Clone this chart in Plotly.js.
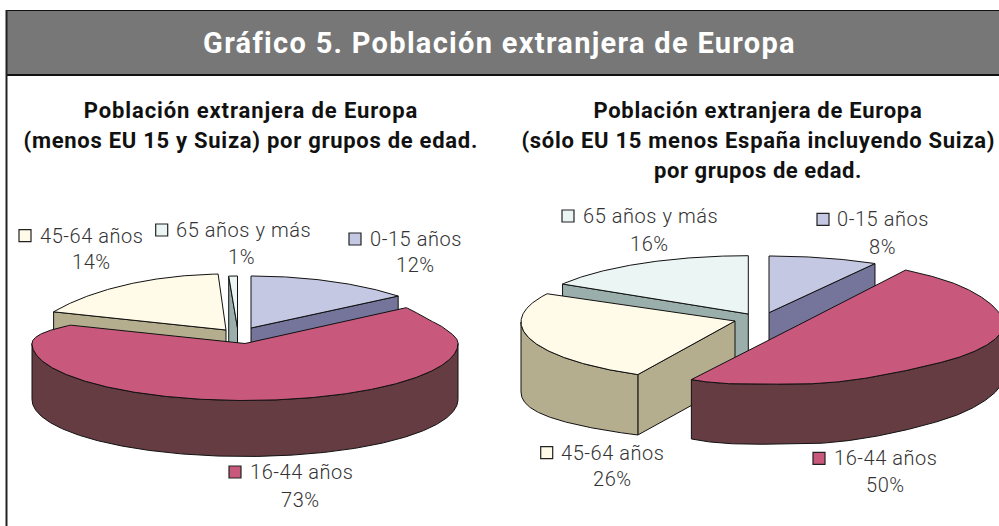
<!DOCTYPE html>
<html><head><meta charset="utf-8">
<script src="https://cdn.plot.ly/plotly-3.0.1.min.js"></script>
<style>html,body{margin:0;padding:0;background:#fff}#c{width:999px;height:526px}
.annotation-text{letter-spacing:0.55px}
.annotation:nth-child(-n+2) .annotation-text{letter-spacing:0.9px}
.annotation:nth-child(n+3):nth-child(-n+5) .annotation-text{letter-spacing:0.72px}
.gtitle{letter-spacing:1.3px}
</style></head><body><div id="c"></div>
<script>
// ---- data ----
const categories = ['0-15 años', '16-44 años', '45-64 años', '65 años y más'];
const valuesLeft = [12, 73, 14, 1];
const valuesRight = [8, 50, 26, 16];
const mainTitle = 'Gráfico 5. Población extranjera de Europa';
const titleLeft = ['Población extranjera de Europa', '(menos EU 15 y Suiza) por grupos de edad.'];
const titleRight = ['Población extranjera de Europa', '(sólo EU 15 menos España incluyendo Suiza)', 'por grupos de edad.'];

// ---- styles ----
const topColors = ['#C5C8E3', '#C9587D', '#FFFBE8', '#EBF5F3'];
const wallColors = ['#75749B', '#663C43', '#B5AE8E', '#9AAFAB'];
const edge = '#111';
const labelFont = {family: 'Roboto, "Liberation Sans", sans-serif', size: 20, color: '#333', weight: 300};
const headFont = {family: 'Roboto, sans-serif', size: 22, color: '#111', weight: 700};

// ---- 3D projection settings, per slice (a = apex, c = ellipse centre) ----
const pieLeft = {
  order: [3, 2, 0, 1],
  geo: [
    {ax:251, ay:328, cx:251, cy:350, rx:215, ry:74, d0:56},
    {ax:245, ay:343.5, cx:245, cy:343.5, rx:213, ry:[[0,56],[48,55],[62,46],[78,40],[89,40],[91,57],[269,57],[271,34],[305,32],[360,32]], d0:56, dS:5.5, dE:-1},
    {ax:226, ay:330, cx:226, cy:368, rx:215, ry:94, d0:56, dS:0.7, dE:1.5},
    {ax:237.5, ay:328, cx:237.5, cy:328, rx:140, ry:52, d0:68}
  ]
};
const pieRight = {
  order: [3, 0, 2, 1],
  geo: [
    {ax:769, ay:312.7, cx:769, cy:317, rx:220, ry:61, d0:60},
    {ax:798.5, ay:325, cx:798.5, cy:325, rx:205, ry:[[0,66],[45,64],[89,58],[91,49],[135,52],[180,59],[212,64],[360,64]], d0:60, d1:-8, dS:2.7, dE:2.7},
    {ax:735, ay:321, cx:735, cy:322, rx:214, ry:59, d0:60, d1:10, dS:-1.8, dE:-3.8},
    {ax:748.3, ay:314, cx:748.3, cy:316.7, rx:220, ry:61, d0:60}
  ]
};
const labelsLeft = [
  {kx:355, ky:239, tx:415.5, ty:239, px:415, py:265},
  {kx:235, ky:472, tx:301.5, ty:472, px:300, py:500},
  {kx:25, ky:235.7, tx:91.5, ty:235.7, px:91.7, py:262},
  {kx:161.7, ky:230, tx:243.5, ty:230, px:241.7, py:257}
];
const labelsRight = [
  {kx:823, ky:219.3, tx:883, ty:219.3, px:882.3, py:246.7},
  {kx:819, ky:458.3, tx:886, ty:458.3, px:885, py:485.3},
  {kx:546.7, ky:452.7, tx:613, ty:452.7, px:612.3, py:479.3},
  {kx:568, ky:216, tx:650, ty:216, px:649, py:244}
];

// ---- helpers ----
const rad = Math.PI / 180;
function ryAt(g, t) {
  if (typeof g.ry === 'number') return g.ry;
  const a = g.ry;
  for (let i = 1; i < a.length; i++) {
    if (t <= a[i][0]) {
      let f = (t - a[i-1][0]) / (a[i][0] - a[i-1][0]);
      f = f * f * (3 - 2 * f);
      return a[i-1][1] + f * (a[i][1] - a[i-1][1]);
    }
  }
  return a[a.length-1][1];
}
function pt(g, t) {
  return [g.cx + g.rx * Math.sin(t*rad), g.cy - ryAt(g, t) * Math.cos(t*rad)];
}
function depth(g, t) {
  return g.d0 + (g.d1 || 0) * Math.pow(Math.sin(t*rad), 4);
}
function range(t0, t1) {
  const out = [], n = Math.max(2, Math.ceil((t1 - t0) * 2));
  for (let i = 0; i <= n; i++) out.push(t0 + (t1 - t0) * i / n);
  return out;
}
function poly(pts, fill) {
  const x = pts.map(p => p[0]).concat([pts[0][0]]);
  const y = pts.map(p => p[1]).concat([pts[0][1]]);
  return {type:'scatter', mode:'lines', x, y, fill:'toself', fillcolor:fill,
    line:{color:edge, width:1}, hoverinfo:'skip', showlegend:false};
}
function buildPie(values, pie) {
  const total = values.reduce((a, b) => a + b, 0);
  const spans = []; let acc = 0;
  values.forEach((v, i) => {
    const g = pie.geo[i];
    spans.push([acc / total * 360 + (g.dS || 0), (acc + v) / total * 360 + (g.dE || 0)]);
    acc += v;
  });
  const traces = [];
  pie.order.forEach(i => {
    const g = pie.geo[i], t0 = spans[i][0], t1 = spans[i][1];
    const wc = wallColors[i];
    if (Math.sin(t0*rad) < -0.01) {
      const p = pt(g, t0), d = depth(g, t0);
      traces.push(poly([[g.ax,g.ay], p, [p[0],p[1]+d], [g.ax,g.ay+d]], wc));
    }
    if (Math.sin(t1*rad) > 0.01) {
      const p = pt(g, t1), d = depth(g, t1);
      traces.push(poly([[g.ax,g.ay], p, [p[0],p[1]+d], [g.ax,g.ay+d]], wc));
    }
    const w0 = Math.max(t0, 90), w1 = Math.min(t1, 270);
    if (w1 > w0) {
      const ts = range(w0, w1);
      const top = ts.map(t => pt(g, t));
      const bot = ts.map(t => { const p = pt(g, t); return [p[0], p[1] + depth(g, t)]; }).reverse();
      traces.push(poly(top.concat(bot), wc));
    }
    const arc = range(t0, t1).map(t => pt(g, t));
    traces.push(poly([[g.ax,g.ay]].concat(arc), topColors[i]));
  });
  return traces;
}
function buildLabels(values, labels) {
  const ann = [];
  labels.forEach((l, i) => {
    ann.push({x:l.tx, y:l.ty, text:categories[i], showarrow:false, xref:'x', yref:'y', xanchor:'center', yanchor:'middle', font:labelFont});
    ann.push({x:l.px, y:l.py, text:values[i] + '%', showarrow:false, xref:'x', yref:'y', xanchor:'center', yanchor:'middle', font:labelFont});
  });
  return ann;
}
function buildKeys(labels) {
  return {type:'scatter', mode:'markers', x:labels.map(l=>l.kx), y:labels.map(l=>l.ky),
    marker:{symbol:'square', size:12, color:topColors, line:{color:'#222', width:1.2}},
    hoverinfo:'skip', showlegend:false};
}
function heads(lines, x) {
  return lines.map((t, i) => ({x, y:110 + i*30, text:t, showarrow:false, xref:'x', yref:'y', xanchor:'center', yanchor:'middle', font:headFont}));
}

const traces = [].concat(
  buildPie(valuesLeft, pieLeft), buildPie(valuesRight, pieRight),
  [buildKeys(labelsLeft), buildKeys(labelsRight)]
);
const layout = {
  width:999, height:526, margin:{l:0,r:0,t:0,b:0}, paper_bgcolor:'#fff', plot_bgcolor:'#fff', showlegend:false,
  title:{text:mainTitle, x:0.5, xanchor:'center', xref:'paper', y:1-43/526, yref:'container', yanchor:'middle',
    font:{family:'Roboto, sans-serif', size:29, color:'#fff', weight:700}},
  xaxis:{range:[0,999], visible:false, fixedrange:true},
  yaxis:{range:[526,0], visible:false, fixedrange:true},
  shapes:[
    {type:'rect', layer:'below', xref:'x', yref:'y', x0:6, x1:1005, y0:10, y1:75, fillcolor:'#777', line:{width:0}},
    {type:'line', layer:'below', xref:'x', yref:'y', x0:6, x1:1005, y0:10.5, y1:10.5, line:{color:'#111', width:1}},
    {type:'line', layer:'below', xref:'x', yref:'y', x0:6, x1:1005, y0:75, y1:75, line:{color:'#111', width:2}},
    {type:'line', layer:'below', xref:'x', yref:'y', x0:6.5, x1:6.5, y0:10, y1:530, line:{color:'#222', width:2}}
  ],
  annotations: [].concat(heads(titleLeft, 251), heads(titleRight, 758), buildLabels(valuesLeft, labelsLeft), buildLabels(valuesRight, labelsRight))
};
Plotly.newPlot('c', traces, layout, {displayModeBar:false, staticPlot:true});
</script></body></html>
